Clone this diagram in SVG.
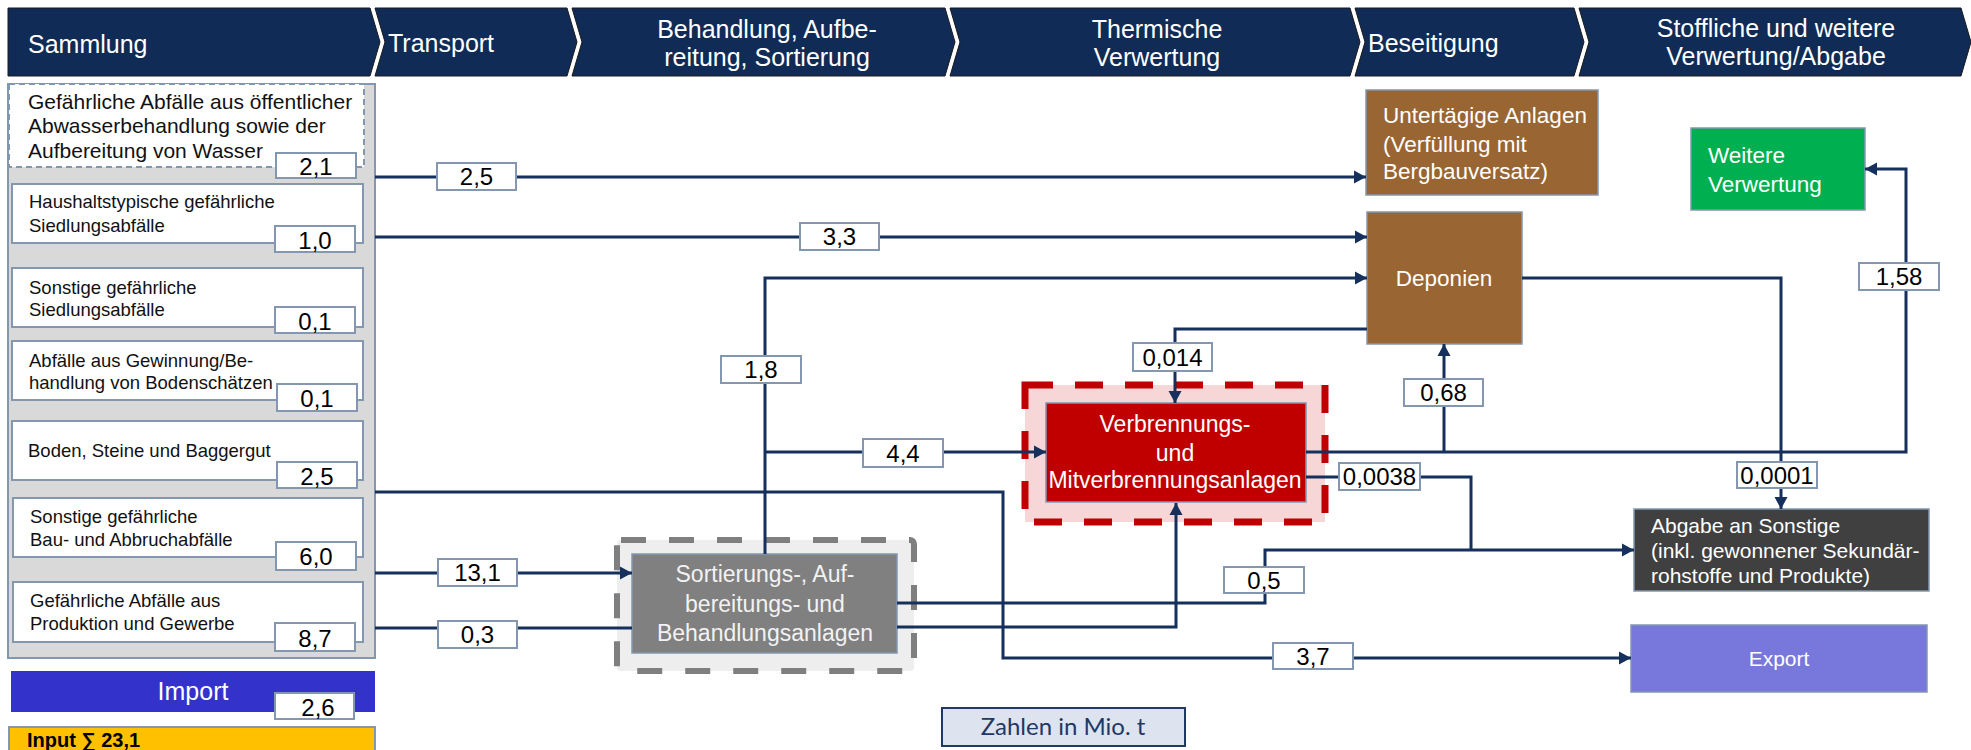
<svg xmlns="http://www.w3.org/2000/svg" width="1971" height="750" viewBox="0 0 1971 750">
<style>
text{font-family:"Liberation Sans",Arial,sans-serif}
.hd{fill:#102b56;stroke:#1a1a1a;stroke-width:1}
.ht{fill:#fff;font-size:25px}
.sub{fill:#fff;stroke:#8497b0;stroke-width:2}
.st{fill:#111;font-size:18.5px}
.vb{fill:#fff;stroke:#8497b0;stroke-width:2}
.vt{fill:#000;font-size:24px;text-anchor:middle}
.ln{fill:none;stroke:#15305c;stroke-width:3}
.wt{fill:#fff}
</style>
<defs>
<marker id="ar" markerUnits="userSpaceOnUse" markerWidth="14" markerHeight="14" refX="12" refY="7" orient="auto">
<path d="M0,0.5 L12,7 L0,13.5 z" fill="#15305c"/>
</marker>
</defs>
<rect width="1971" height="750" fill="#fff"/>
<g id="header">
<polygon class="hd" points="8,8 370,8 380,42 370,76 8,76"/>
<polygon class="hd" points="375,8 567,8 577,42 567,76 375,76 385,42"/>
<polygon class="hd" points="572,8 945,8 955,42 945,76 572,76 582,42"/>
<polygon class="hd" points="950,8 1350,8 1360,42 1350,76 950,76 960,42"/>
<polygon class="hd" points="1355,8 1574,8 1584,42 1574,76 1355,76 1365,42"/>
<polygon class="hd" points="1579,8 1961,8 1971,42 1961,76 1579,76 1589,42"/>
<text class="ht" x="28" y="53">Sammlung</text>
<text class="ht" x="388" y="52">Transport</text>
<text class="ht" x="767" y="38" text-anchor="middle">Behandlung, Aufbe-</text>
<text class="ht" x="767" y="66" text-anchor="middle">reitung, Sortierung</text>
<text class="ht" x="1157" y="38" text-anchor="middle">Thermische</text>
<text class="ht" x="1157" y="66" text-anchor="middle">Verwertung</text>
<text class="ht" x="1368" y="52">Beseitigung</text>
<text class="ht" x="1776" y="37" text-anchor="middle">Stoffliche und weitere</text>
<text class="ht" x="1776" y="65" text-anchor="middle">Verwertung/Abgabe</text>
</g>
<g id="sammlung-panel">
<rect x="8" y="84" width="367" height="574" fill="#d9d9d9" stroke="#8497b0" stroke-width="2"/>
</g>
<g id="abwasser">
<rect x="9" y="84" width="355" height="83" fill="#fff" stroke="#8497b0" stroke-width="2" stroke-dasharray="6,4"/>
<text fill="#111" font-size="21" x="28" y="109">Gefährliche Abfälle aus öffentlicher</text>
<text fill="#111" font-size="21" x="28" y="133">Abwasserbehandlung sowie der</text>
<text fill="#111" font-size="21" x="28" y="158">Aufbereitung von Wasser</text>
<rect class="vb" x="276" y="153" width="80" height="25"/>
<text class="vt" x="316" y="175">2,1</text>
</g>
<g id="haushalt">
<rect class="sub" x="12" y="184" width="351" height="59"/>
<text class="st" x="29" y="208">Haushaltstypische gefährliche</text>
<text class="st" x="29" y="232">Siedlungsabfälle</text>
<rect class="vb" x="275" y="226" width="80" height="26"/>
<text class="vt" x="315" y="249">1,0</text>
</g>
<g id="siedlung">
<rect class="sub" x="12" y="268" width="351" height="59"/>
<text class="st" x="29" y="294">Sonstige gefährliche</text>
<text class="st" x="29" y="316">Siedlungsabfälle</text>
<rect class="vb" x="275" y="307" width="80" height="26"/>
<text class="vt" x="315" y="330">0,1</text>
</g>
<g id="bodenschaetze">
<rect class="sub" x="12" y="341" width="351" height="59"/>
<text class="st" x="29" y="367">Abfälle aus Gewinnung/Be-</text>
<text class="st" x="29" y="389">handlung von Bodenschätzen</text>
<rect class="vb" x="277" y="384" width="80" height="27"/>
<text class="vt" x="317" y="407">0,1</text>
</g>
<g id="boden">
<rect class="sub" x="12" y="421" width="351" height="59"/>
<text class="st" x="28" y="457">Boden, Steine und Baggergut</text>
<rect class="vb" x="277" y="462" width="80" height="26"/>
<text class="vt" x="317" y="485">2,5</text>
</g>
<g id="bau">
<rect class="sub" x="13" y="498" width="350" height="59"/>
<text class="st" x="30" y="523">Sonstige gefährliche</text>
<text class="st" x="30" y="546">Bau- und Abbruchabfälle</text>
<rect class="vb" x="276" y="542" width="80" height="28"/>
<text class="vt" x="316" y="565">6,0</text>
</g>
<g id="produktion">
<rect class="sub" x="13" y="582" width="350" height="60"/>
<text class="st" x="30" y="607">Gefährliche Abfälle aus</text>
<text class="st" x="30" y="630">Produktion und Gewerbe</text>
<rect class="vb" x="275" y="623" width="80" height="28"/>
<text class="vt" x="315" y="647">8,7</text>
</g>
<g id="import">
<rect x="11" y="671" width="364" height="41" fill="#3333cc"/>
<text class="wt" font-size="25" x="193" y="700" text-anchor="middle">Import</text>
<rect class="vb" x="275" y="693" width="79" height="26"/>
<text class="vt" x="318" y="716">2,6</text>
</g>
<g id="input">
<rect x="9" y="727" width="366" height="30" fill="#ffc000" stroke="#8497b0" stroke-width="2"/>
<text fill="#000" font-size="20" font-weight="bold" x="27" y="747">Input ∑ 23,1</text>
</g>
<g id="sortierung">
<rect x="617" y="540" width="297" height="131" rx="4" fill="#eeeeee" stroke="#7f7f7f" stroke-width="6" stroke-dasharray="25,23"/>
<rect x="632" y="554" width="265" height="99" fill="#808080" stroke="#8497b0" stroke-width="1.5"/>
<text fill="#f2f2f2" font-size="23" x="765" y="582" text-anchor="middle">Sortierungs-, Auf-</text>
<text fill="#f2f2f2" font-size="23" x="765" y="612" text-anchor="middle">bereitungs- und</text>
<text fill="#f2f2f2" font-size="23" x="765" y="641" text-anchor="middle">Behandlungsanlagen</text>
</g>
<g id="verbrennung">
<rect x="1025" y="385" width="300" height="137" fill="#f6d6d6" stroke="#c00000" stroke-width="7" stroke-dasharray="28,22"/>
<rect x="1046" y="403" width="260" height="99" fill="#c00000" stroke="#8497b0" stroke-width="1.5"/>
<text class="wt" font-size="23" x="1175" y="432" text-anchor="middle">Verbrennungs-</text>
<text class="wt" font-size="23" x="1175" y="461" text-anchor="middle">und</text>
<text class="wt" font-size="23" x="1175" y="488" text-anchor="middle">Mitverbrennungsanlagen</text>
</g>
<g id="untertaegig">
<rect x="1366" y="90" width="232" height="105" fill="#996633" stroke="#8497b0" stroke-width="1.5"/>
<text class="wt" font-size="22.5" x="1383" y="123">Untertägige Anlagen</text>
<text class="wt" font-size="22.5" x="1383" y="152">(Verfüllung mit</text>
<text class="wt" font-size="22.5" x="1383" y="179">Bergbauversatz)</text>
</g>
<g id="deponien">
<rect x="1367" y="212" width="155" height="132" fill="#996633" stroke="#8497b0" stroke-width="1.5"/>
<text class="wt" font-size="22.5" x="1444" y="286" text-anchor="middle">Deponien</text>
</g>
<g id="weitere">
<rect x="1691" y="128" width="174" height="82" fill="#00b050" stroke="#8497b0" stroke-width="1.5"/>
<text class="wt" font-size="22.5" x="1708" y="163">Weitere</text>
<text class="wt" font-size="22.5" x="1708" y="192">Verwertung</text>
</g>
<g id="abgabe">
<rect x="1634" y="509" width="295" height="82" fill="#404040" stroke="#8497b0" stroke-width="1.5"/>
<text class="wt" font-size="21" x="1651" y="533">Abgabe an Sonstige</text>
<text class="wt" font-size="21" x="1651" y="558">(inkl. gewonnener Sekundär-</text>
<text class="wt" font-size="21" x="1651" y="583">rohstoffe und Produkte)</text>
</g>
<g id="export">
<rect x="1631" y="625" width="296" height="67" fill="#7878dc" stroke="#8497b0" stroke-width="1.5"/>
<text class="wt" font-size="21" x="1779" y="666" text-anchor="middle">Export</text>
</g>
<g id="zahlen">
<rect x="942" y="708" width="243" height="38" fill="#dee4ef" stroke="#1f3864" stroke-width="2"/>
<text fill="#1f3864" font-size="24" x="1063" y="735" text-anchor="middle" style="font-family:Lato,'Liberation Sans',sans-serif">Zahlen in Mio. t</text>
</g>
<g id="connectors">
<path class="ln" d="M375,177 H1366" marker-end="url(#ar)"/>
<path class="ln" d="M375,237 H1367" marker-end="url(#ar)"/>
<path class="ln" d="M765,554 V278 H1367" marker-end="url(#ar)"/>
<path class="ln" d="M765,452 H1046" marker-end="url(#ar)"/>
<path class="ln" d="M375,492 H1003 V658 H1631" marker-end="url(#ar)"/>
<path class="ln" d="M375,573 H632" marker-end="url(#ar)"/>
<path class="ln" d="M375,628 H632"/>
<path class="ln" d="M897,603 H1265 V550 H1634" marker-end="url(#ar)"/>
<path class="ln" d="M897,627 H1176 V503" marker-end="url(#ar)"/>
<path class="ln" d="M1306,452 H1906 V169 H1865" marker-end="url(#ar)"/>
<path class="ln" d="M1444,452 V344" marker-end="url(#ar)"/>
<path class="ln" d="M1306,477 H1471 V550"/>
<path class="ln" d="M1522,278 H1781 V509" marker-end="url(#ar)"/>
<path class="ln" d="M1367,329 H1175 V403" marker-end="url(#ar)"/>
<rect class="vb" x="437" y="163" width="79" height="27"/><text class="vt" x="476.5" y="185">2,5</text>
<rect class="vb" x="800" y="223" width="79" height="27"/><text class="vt" x="839.5" y="245">3,3</text>
<rect class="vb" x="721" y="356" width="80" height="27"/><text class="vt" x="761" y="378">1,8</text>
<rect class="vb" x="863" y="439" width="80" height="28"/><text class="vt" x="903" y="462">4,4</text>
<rect class="vb" x="438" y="559" width="79" height="27"/><text class="vt" x="477.5" y="581">13,1</text>
<rect class="vb" x="438" y="621" width="79" height="27"/><text class="vt" x="477.5" y="643">0,3</text>
<rect class="vb" x="1133" y="343" width="79" height="28"/><text class="vt" x="1172.5" y="366">0,014</text>
<rect class="vb" x="1404" y="379" width="79" height="27"/><text class="vt" x="1443.5" y="401">0,68</text>
<rect class="vb" x="1859" y="263" width="80" height="27"/><text class="vt" x="1899" y="285">1,58</text>
<rect class="vb" x="1339" y="463" width="81" height="27"/><text class="vt" x="1379.5" y="485">0,0038</text>
<rect class="vb" x="1737" y="462" width="80" height="26"/><text class="vt" x="1777" y="484">0,0001</text>
<rect class="vb" x="1224" y="567" width="80" height="26"/><text class="vt" x="1264" y="589">0,5</text>
<rect class="vb" x="1273" y="643" width="80" height="26"/><text class="vt" x="1313" y="665">3,7</text>
</g>
</svg>
